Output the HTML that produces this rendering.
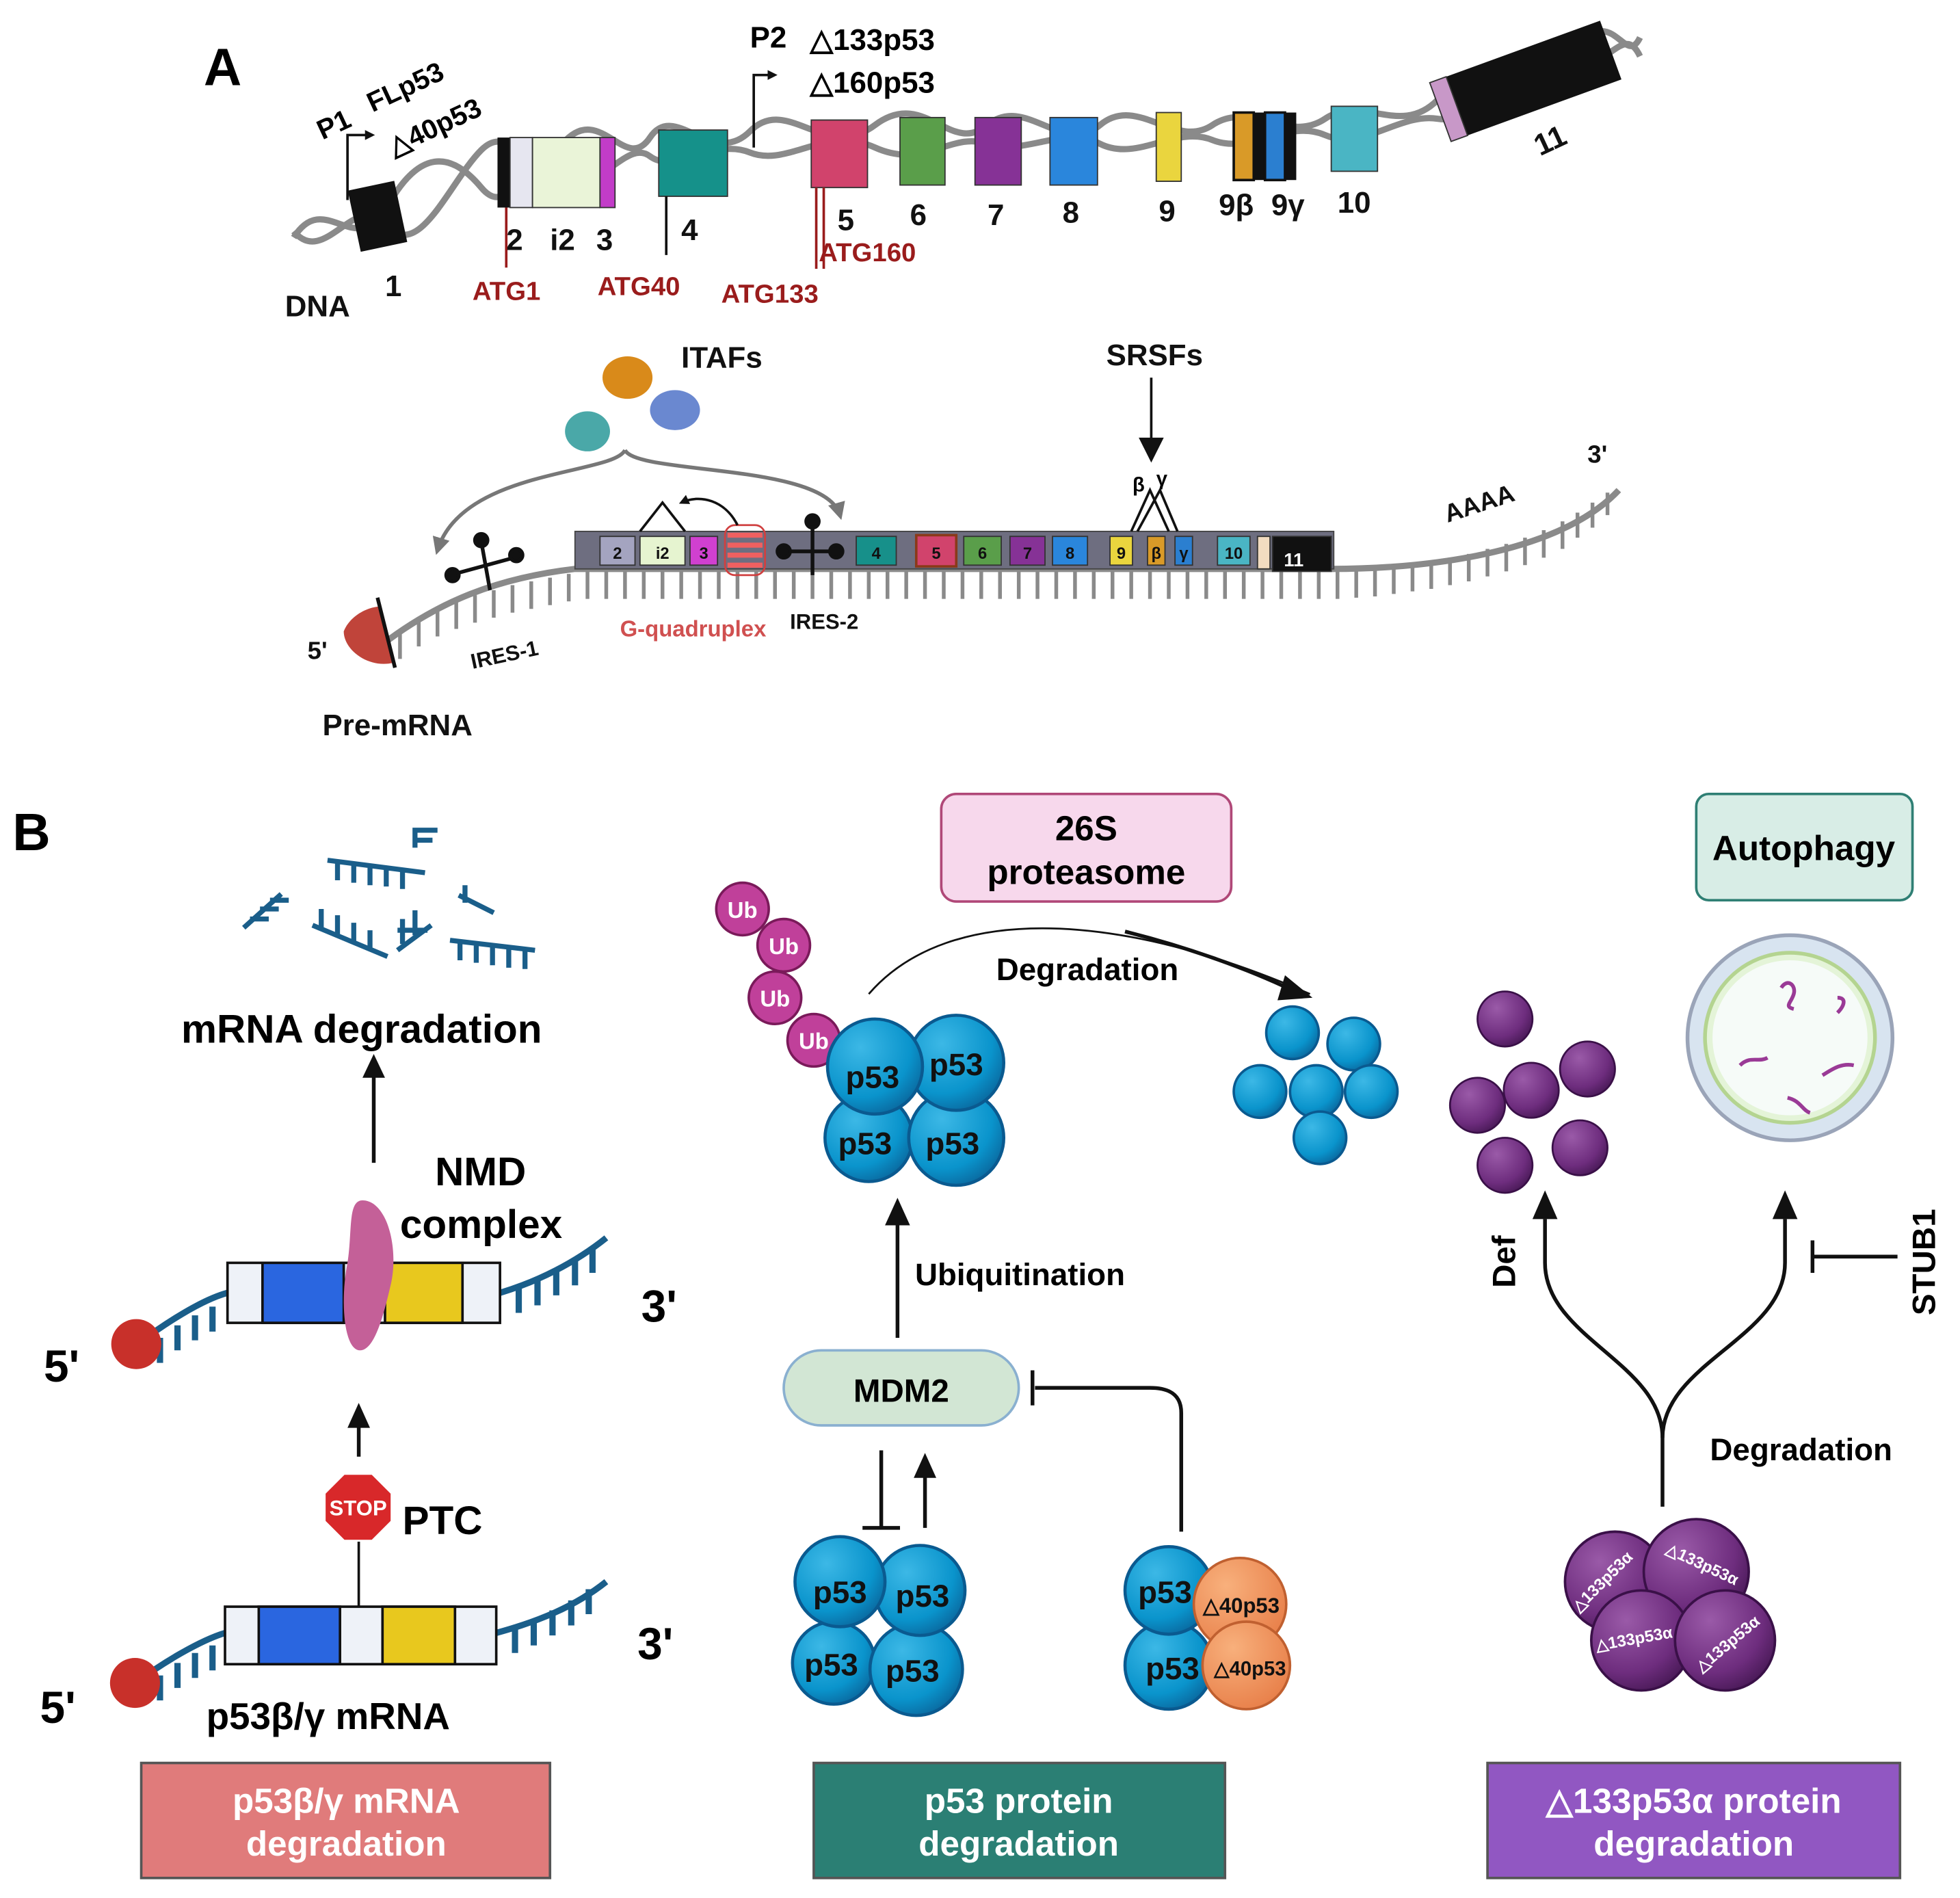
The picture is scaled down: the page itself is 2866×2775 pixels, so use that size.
<!DOCTYPE html>
<html><head><meta charset="utf-8"><style>
html,body{margin:0;padding:0;background:#fff}
svg{display:block}
text{font-family:"Liberation Sans",sans-serif;font-weight:bold}
</style></head><body>
<svg width="2866" height="2775" viewBox="0 0 1568 1518" preserveAspectRatio="none" xmlns="http://www.w3.org/2000/svg">
<defs>
<radialGradient id="gb" cx="0.35" cy="0.3" r="0.75"><stop offset="0" stop-color="#3cb8e6"/><stop offset="0.7" stop-color="#0a94cc"/><stop offset="1" stop-color="#0a6aa0"/></radialGradient>
<radialGradient id="gp" cx="0.35" cy="0.3" r="0.75"><stop offset="0" stop-color="#9a5aa8"/><stop offset="0.7" stop-color="#6e2d7e"/><stop offset="1" stop-color="#4a1a58"/></radialGradient>
<radialGradient id="go" cx="0.35" cy="0.3" r="0.75"><stop offset="0" stop-color="#f8b07c"/><stop offset="1" stop-color="#e8804a"/></radialGradient>
<marker id="ah" markerWidth="8" markerHeight="8" refX="6" refY="4" orient="auto" markerUnits="userSpaceOnUse"><path d="M0,0 L8,4 L0,8z" fill="#111"/></marker>
<marker id="ahb" markerWidth="18" markerHeight="18" refX="14" refY="9" orient="auto" markerUnits="userSpaceOnUse"><path d="M0,0 L18,9 L0,18z" fill="#111"/></marker>
<marker id="ahg" markerWidth="14" markerHeight="14" refX="10" refY="7" orient="auto" markerUnits="userSpaceOnUse"><path d="M0,0 L14,7 L0,14z" fill="#777"/></marker>
</defs>

<!-- ===== A ===== -->
<text x="163" y="68" font-size="42">A</text>
<!-- DNA helix -->
<g fill="none" stroke="#8a8a8a" stroke-width="5">
<path d="M235,190 C260,150 285,210 310,165 S360,120 385,150 S420,110 450,135 S500,110 520,125 S570,110 600,122 S660,100 700,118 S760,105 790,115 S850,100 880,115 S940,100 970,112 S1030,95 1060,108 S1120,90 1150,95 S1230,60 1260,55 S1300,20 1312,45"/>
<path d="M235,185 C260,215 285,150 310,180 S360,145 385,120 S420,150 450,115 S500,140 520,110 S570,135 600,105 S660,130 700,100 S760,125 790,100 S850,125 880,100 S940,120 970,100 S1030,115 1060,95 S1120,110 1150,80 S1230,80 1260,40 S1300,55 1312,30"/>
</g>
<!-- exons -->
<rect x="283" y="148" width="38" height="50" fill="#111" transform="rotate(-12 302 173)"/>
<rect x="398" y="110" width="10" height="56" fill="#111"/>
<rect x="408" y="110" width="18" height="56" fill="#e6e6f0" stroke="#333"/>
<rect x="426" y="110" width="54" height="56" fill="#eaf4d8" stroke="#333"/>
<rect x="480" y="110" width="12" height="56" fill="#c23cc8" stroke="#333"/>
<rect x="527" y="104" width="55" height="53" fill="#15918a" stroke="#333"/>
<rect x="649" y="96" width="45" height="54" fill="#d1436c" stroke="#333"/>
<rect x="720" y="94" width="36" height="54" fill="#5a9e4a" stroke="#333"/>
<rect x="780" y="94" width="37" height="54" fill="#863296" stroke="#333"/>
<rect x="840" y="94" width="38" height="54" fill="#2a86dc" stroke="#333"/>
<rect x="925" y="90" width="20" height="55" fill="#ead53e" stroke="#333"/>
<rect x="987" y="90" width="16" height="54" fill="#d99a28" stroke="#111" stroke-width="2"/>
<rect x="1003" y="90" width="9" height="54" fill="#111"/>
<rect x="1012" y="90" width="16" height="54" fill="#2b7fd0" stroke="#111" stroke-width="2"/>
<rect x="1028" y="90" width="9" height="54" fill="#111"/>
<rect x="1065" y="85" width="37" height="52" fill="#4ab5c4" stroke="#333"/>
<g transform="rotate(-20 1220 65)"><rect x="1148" y="40" width="145" height="50" fill="#111"/><rect x="1148" y="40" width="14" height="50" fill="#c898c8" stroke="#333"/></g>
<!-- promoters -->
<path d="M278,160 V108 H298" fill="none" stroke="#111" stroke-width="2" marker-end="url(#ah)"/>
<path d="M603,118 V60 H620" fill="none" stroke="#111" stroke-width="2" marker-end="url(#ah)"/>
<text x="258" y="112" font-size="22" transform="rotate(-25 258 112)">P1</text>
<text x="298" y="90" font-size="22" transform="rotate(-25 298 90)">FLp53</text>
<text x="315" y="125" font-size="22" transform="rotate(-25 315 125)">△40p53</text>
<text x="600" y="38" font-size="24">P2</text>
<text x="648" y="40" font-size="24">△133p53</text>
<text x="648" y="74" font-size="24">△160p53</text>
<!-- ATG lines -->
<g stroke="#9a1c1c" stroke-width="2"><line x1="405" y1="166" x2="405" y2="214"/><line x1="653" y1="150" x2="653" y2="215"/><line x1="659" y1="150" x2="659" y2="215"/></g>
<line x1="533" y1="157" x2="533" y2="204" stroke="#111" stroke-width="2"/>
<g font-size="24" fill="#111">
<text x="228" y="253">DNA</text><text x="308" y="237">1</text><text x="405" y="200">2</text><text x="440" y="200">i2</text><text x="477" y="200">3</text><text x="545" y="192">4</text><text x="670" y="184">5</text><text x="728" y="180">6</text><text x="790" y="180">7</text><text x="850" y="178">8</text><text x="927" y="177">9</text><text x="975" y="172">9β</text><text x="1017" y="172">9γ</text><text x="1070" y="170">10</text>
<text x="1232" y="125" transform="rotate(-25 1232 125)">11</text>
</g>
<g font-size="21" fill="#9a1c1c"><text x="378" y="240">ATG1</text><text x="478" y="236">ATG40</text><text x="577" y="242">ATG133</text><text x="655" y="209">ATG160</text></g>

<!-- pre-mRNA -->
<g stroke="#8a8a8a" stroke-width="3">
<path d="M300,520 C350,480 400,462 460,455 L1065,455 C1150,455 1250,440 1295,392" fill="none" stroke-width="5"/>
</g>
<g stroke="#8a8a8a" stroke-width="3" id="ticks">
<path d="M320,505v22M335,495v22M350,487v22M365,481v22M380,476v22M395,472v22M410,468v22M425,465v22M440,462v22M455,459v22
M470,457v22M485,457v22M500,457v22M515,457v22M530,457v22M545,457v22M560,457v22M575,457v22M590,457v22M605,457v22M620,457v22M635,457v22M650,457v22M665,457v22M680,457v22M695,457v22M710,457v22M725,457v22M740,457v22M755,457v22M770,457v22M785,457v22M800,457v22M815,457v22M830,457v22M845,457v22M860,457v22M875,457v22M890,457v22M905,457v22M920,457v22M935,457v22M950,457v22M965,457v22M980,457v22M995,457v22M1010,457v22M1025,457v22M1040,457v22M1055,457v22
M1070,457v22M1085,456v22M1100,455v22M1115,453v22M1130,451v22M1145,449v22M1160,446v22M1175,443v22M1190,439v22M1205,435v22M1220,430v22M1235,424v22M1250,417v22M1262,410v20M1274,402v20M1286,394v18"/>
</g>
<rect x="460" y="425" width="607" height="30" fill="#6e6e80" stroke="#444"/>
<g stroke="#333" stroke-width="1">
<rect x="480" y="429" width="28" height="23" fill="#a4a4c0"/>
<rect x="512" y="429" width="36" height="23" fill="#e6f4d0"/>
<rect x="552" y="429" width="22" height="23" fill="#d040d0"/>
<rect x="685" y="429" width="32" height="23" fill="#17908a"/>
<rect x="733" y="428" width="32" height="25" fill="#d1436c" stroke="#8a3a1a" stroke-width="2"/>
<rect x="771" y="429" width="30" height="23" fill="#5a9e4a"/>
<rect x="808" y="429" width="28" height="23" fill="#863296"/>
<rect x="842" y="429" width="28" height="23" fill="#2a86dc"/>
<rect x="888" y="429" width="18" height="23" fill="#ead53e"/>
<rect x="918" y="429" width="14" height="23" fill="#d99a28"/>
<rect x="940" y="429" width="14" height="23" fill="#2b7fd0"/>
<rect x="974" y="429" width="26" height="23" fill="#4ab5c4"/>
<rect x="1006" y="429" width="10" height="26" fill="#f2dcc0"/>
<rect x="1018" y="429" width="47" height="28" fill="#111"/>
</g>
<g font-size="13" fill="#111" text-anchor="middle"><text x="494" y="447">2</text><text x="530" y="447">i2</text><text x="563" y="447">3</text><text x="701" y="447">4</text><text x="749" y="447">5</text><text x="786" y="447">6</text><text x="822" y="447">7</text><text x="856" y="447">8</text><text x="897" y="447">9</text><text x="925" y="447">β</text><text x="947" y="447">γ</text><text x="987" y="447">10</text><text x="1035" y="453" fill="#fff" font-size="15">11</text></g>
<!-- G4 -->
<g stroke="#d04040" stroke-width="1.5" fill="none"><rect x="580" y="420" width="32" height="40" rx="8"/></g>
<g stroke="#f06060" stroke-width="4"><line x1="582" y1="428" x2="610" y2="428"/><line x1="582" y1="436" x2="610" y2="436"/><line x1="582" y1="444" x2="610" y2="444"/><line x1="582" y1="452" x2="610" y2="452"/></g>
<!-- splicing triangle & arrow -->
<path d="M512,425 L530,402 L548,425" fill="none" stroke="#111" stroke-width="2"/>
<path d="M590,420 C580,400 560,395 545,402" fill="none" stroke="#111" stroke-width="2" marker-end="url(#ah)"/>
<!-- IRES symbols -->
<g stroke="#111" stroke-width="3" fill="#111">
<line x1="360" y1="460" x2="415" y2="445"/><line x1="385" y1="433" x2="392" y2="472"/><circle cx="362" cy="460" r="5"/><circle cx="413" cy="444" r="5"/><circle cx="385" cy="432" r="5"/>
<line x1="625" y1="441" x2="670" y2="441"/><line x1="650" y1="418" x2="650" y2="460"/><circle cx="627" cy="441" r="5"/><circle cx="669" cy="441" r="5"/><circle cx="650" cy="417" r="5"/>
</g>
<!-- 5' cap -->
<path d="M305,485 L315,530 C295,535 275,520 275,505 C280,492 295,485 305,485z" fill="#c0443a"/>
<line x1="302" y1="478" x2="316" y2="534" stroke="#111" stroke-width="3"/>
<g font-size="20" fill="#111"><text x="246" y="527">5'</text><text x="1270" y="370">3'</text>
<text x="1158" y="418" transform="rotate(-18 1158 418)">AAAA</text>
<text x="378" y="535" font-size="17" transform="rotate(-12 378 535)">IRES-1</text>
<text x="632" y="503" font-size="17">IRES-2</text>
<text x="496" y="509" font-size="18" fill="#d05050">G-quadruplex</text>
<text x="258" y="588" font-size="24">Pre-mRNA</text>
<text x="545" y="294" font-size="24">ITAFs</text><text x="885" y="292" font-size="24">SRSFs</text>
</g>
<!-- ITAF blobs -->
<ellipse cx="502" cy="302" rx="20" ry="17" fill="#d98a1a"/>
<ellipse cx="470" cy="345" rx="18" ry="16" fill="#4aa8a8"/>
<ellipse cx="540" cy="328" rx="20" ry="16" fill="#6a88d0"/>
<!-- ITAF brace arrows -->
<path d="M500,360 C490,380 370,375 350,440" fill="none" stroke="#777" stroke-width="3" marker-end="url(#ahg)"/>
<path d="M500,360 C510,380 660,370 672,412" fill="none" stroke="#777" stroke-width="3" marker-end="url(#ahg)"/>
<!-- SRSF arrow -->
<line x1="921" y1="302" x2="921" y2="362" stroke="#111" stroke-width="2"/><path d="M911,350 L921,370 L931,350z" fill="#111"/>
<text x="906" y="393" font-size="16">β</text><text x="925" y="388" font-size="16">γ</text>
<path d="M905,425 L920,392 L935,425 M910,425 L928,392 L942,425" fill="none" stroke="#111" stroke-width="2"/>

<!-- ===== B ===== -->
<text x="10" y="680" font-size="42">B</text>
<!-- mRNA fragments -->
<g stroke="#1a5e8a" stroke-width="4" fill="none">
<path d="M262,688 L340,698 M270,688v16M283,690v16M296,692v16M309,693v16M322,695v16"/>
<path d="M332,662 v16 M332,664 h18 M332,672 h14"/>
<path d="M195,742 L225,715 M200,735h15M208,727h15M216,720h15"/>
<path d="M250,740 L310,765 M257,743v-16M270,748v-16M283,754v-16M296,760v-16"/>
<path d="M318,760 L345,740 M322,735v20M332,728v20 M318,744 h24"/>
<path d="M367,716 L395,730 M372,708 v14"/>
<path d="M360,752 L428,760 M368,752v16M381,754v16M394,756v16M407,758v16M420,759v16"/>
</g>
<text x="145" y="834" font-size="32">mRNA degradation</text>
<line x1="299" y1="930" x2="299" y2="860" stroke="#111" stroke-width="3"/><path d="M290,862 L299,843 L308,862z" fill="#111"/>
<!-- NMD mRNA top -->
<g stroke="#1a5e8a" stroke-width="5" fill="none">
<path d="M110,1075 C130,1060 160,1040 182,1034"/><path d="M400,1034 C430,1025 460,1010 485,990"/>
<path d="M128,1070v20M142,1060v20M156,1052v20M170,1045v20M415,1030v20M430,1024v20M445,1016v20M460,1008v20M474,998v20"/>
</g>
<rect x="182" y="1010" width="218" height="48" fill="#eef2f8" stroke="#111" stroke-width="2"/>
<rect x="210" y="1010" width="65" height="48" fill="#2a66e0" stroke="#111" stroke-width="2"/>
<rect x="308" y="1010" width="62" height="48" fill="#e8c81e" stroke="#111" stroke-width="2"/>
<circle cx="109" cy="1075" r="20" fill="#c8302a"/>
<path d="M290,960 C310,960 320,1000 312,1030 C305,1060 298,1080 288,1080 C275,1080 272,1040 278,1010 C282,985 278,960 290,960z" fill="#c46098"/>
<text x="348" y="948" font-size="32">NMD</text><text x="320" y="990" font-size="32">complex</text>
<text x="35" y="1105" font-size="36">5'</text><text x="513" y="1057" font-size="36">3'</text>
<line x1="287" y1="1165" x2="287" y2="1140" stroke="#111" stroke-width="3"/><path d="M278,1142 L287,1122 L296,1142z" fill="#111"/>
<!-- STOP -->
<polygon points="275,1178 298,1178 314,1194 314,1217 298,1233 275,1233 259,1217 259,1194" fill="#d8282a" stroke="#fff" stroke-width="3"/>
<text x="286.5" y="1212" font-size="17" fill="#fff" text-anchor="middle">STOP</text>
<text x="322" y="1227" font-size="32">PTC</text>
<line x1="287" y1="1233" x2="287" y2="1285" stroke="#111" stroke-width="2"/>
<!-- bottom mRNA -->
<g stroke="#1a5e8a" stroke-width="5" fill="none">
<path d="M110,1345 C130,1330 160,1312 180,1306"/><path d="M397,1306 C430,1297 460,1285 485,1265"/>
<path d="M128,1340v20M142,1330v20M156,1322v20M170,1316v20M412,1302v20M427,1296v20M442,1288v20M457,1280v20M471,1271v20"/>
</g>
<rect x="180" y="1285" width="217" height="46" fill="#eef2f8" stroke="#111" stroke-width="2"/>
<rect x="207" y="1285" width="65" height="46" fill="#2a66e0" stroke="#111" stroke-width="2"/>
<rect x="306" y="1285" width="58" height="46" fill="#e8c81e" stroke="#111" stroke-width="2"/>
<circle cx="108" cy="1346" r="20" fill="#c8302a"/>
<text x="32" y="1378" font-size="36">5'</text><text x="510" y="1327" font-size="36">3'</text>
<text x="165" y="1383" font-size="30">p53β/γ mRNA</text>
<rect x="113" y="1410" width="327" height="92" fill="#e07b7b" stroke="#555" stroke-width="2"/>
<text x="277" y="1450" font-size="28" fill="#fff" text-anchor="middle">p53β/γ mRNA</text><text x="277" y="1484" font-size="28" fill="#fff" text-anchor="middle">degradation</text>

<!-- middle -->
<rect x="753" y="635" width="232" height="86" rx="12" fill="#f7d8ec" stroke="#b04878" stroke-width="2"/>
<text x="869" y="672" font-size="28" text-anchor="middle">26S</text><text x="869" y="707" font-size="28" text-anchor="middle">proteasome</text>
<path d="M695,795 C760,720 900,730 1048,795" fill="none" stroke="#111" stroke-width="1.5"/>
<path d="M900,745 C960,760 1010,780 1040,795" fill="none" stroke="#111" stroke-width="3"/>
<path d="M1028,780 L1050,798 L1022,800z" fill="#111"/>
<text x="797" y="784" font-size="25">Degradation</text>
<g fill="#c0409a" stroke="#7a1a5a" stroke-width="2">
<circle cx="594" cy="727" r="21"/><circle cx="627" cy="756" r="21"/><circle cx="620" cy="798" r="21"/><circle cx="651" cy="832" r="21"/>
</g>
<g font-size="18" fill="#fff" text-anchor="middle"><text x="594" y="734">Ub</text><text x="627" y="763">Ub</text><text x="620" y="805">Ub</text><text x="651" y="839">Ub</text></g>
<g stroke="#0a5a90" stroke-width="2.5" fill="url(#gb)">
<circle cx="695" cy="910" r="35"/><circle cx="765" cy="910" r="38"/><circle cx="765" cy="850" r="38"/><circle cx="700" cy="853" r="38"/>
</g>
<g font-size="25" fill="#111" text-anchor="middle"><text x="698" y="870">p53</text><text x="765" y="860">p53</text><text x="692" y="923">p53</text><text x="762" y="923">p53</text></g>
<g stroke="#0a5a90" stroke-width="2" fill="url(#gb)">
<circle cx="1034" cy="826" r="21"/><circle cx="1083" cy="835" r="21"/><circle cx="1008" cy="873" r="21"/><circle cx="1053" cy="873" r="21"/><circle cx="1097" cy="873" r="21"/><circle cx="1056" cy="910" r="21"/>
</g>
<line x1="718" y1="1070" x2="718" y2="978" stroke="#111" stroke-width="3"/><path d="M708,980 L718,958 L728,980z" fill="#111"/>
<text x="732" y="1028" font-size="25">Ubiquitination</text>
<rect x="627" y="1080" width="188" height="60" rx="30" fill="#d2e6d4" stroke="#8ab0d0" stroke-width="2"/>
<text x="721" y="1121" font-size="26" text-anchor="middle">MDM2</text>
<path d="M945,1225 V1130 C945,1115 935,1110 920,1110 H828" fill="none" stroke="#111" stroke-width="3"/>
<line x1="826" y1="1096" x2="826" y2="1124" stroke="#111" stroke-width="3"/>
<line x1="705" y1="1160" x2="705" y2="1222" stroke="#111" stroke-width="3"/><line x1="690" y1="1222" x2="720" y2="1222" stroke="#111" stroke-width="3"/>
<line x1="740" y1="1222" x2="740" y2="1180" stroke="#111" stroke-width="3"/><path d="M731,1182 L740,1162 L749,1182z" fill="#111"/>
<g stroke="#0a5a90" stroke-width="2.5" fill="url(#gb)">
<circle cx="667" cy="1330" r="33"/><circle cx="733" cy="1335" r="37"/><circle cx="736" cy="1272" r="36"/><circle cx="672" cy="1265" r="36"/>
</g>
<g font-size="25" fill="#111" text-anchor="middle"><text x="672" y="1282">p53</text><text x="738" y="1285">p53</text><text x="665" y="1340">p53</text><text x="730" y="1345">p53</text></g>
<g stroke="#0a5a90" stroke-width="2.5" fill="url(#gb)"><circle cx="935" cy="1332" r="35"/><circle cx="935" cy="1272" r="35"/></g>
<g stroke="#c06030" stroke-width="2" fill="url(#go)"><circle cx="992" cy="1283" r="37"/><circle cx="997" cy="1332" r="35"/></g>
<g font-size="25" fill="#111" text-anchor="middle"><text x="932" y="1282">p53</text><text x="938" y="1343">p53</text><text x="993" y="1290" font-size="17">△40p53</text><text x="1000" y="1340" font-size="16">△40p53</text></g>
<rect x="651" y="1410" width="329" height="92" fill="#2b7f74" stroke="#555" stroke-width="2"/>
<text x="815" y="1450" font-size="28" fill="#fff" text-anchor="middle">p53 protein</text><text x="815" y="1484" font-size="28" fill="#fff" text-anchor="middle">degradation</text>

<!-- right -->
<rect x="1357" y="635" width="173" height="85" rx="10" fill="#d8ede6" stroke="#2f7f74" stroke-width="2"/>
<text x="1443" y="688" font-size="28" text-anchor="middle">Autophagy</text>
<circle cx="1432" cy="830" r="82" fill="#d8e4f0" stroke="#9aa4b8" stroke-width="3"/>
<circle cx="1432" cy="830" r="68" fill="#e4f4d8" stroke="#b4d490" stroke-width="3"/>
<circle cx="1432" cy="830" r="62" fill="#f6fbf8"/>
<g stroke="#9a3a96" stroke-width="3" fill="none">
<path d="M1425,790 c5,-8 12,-2 10,5 s-8,10 0,12"/><path d="M1470,810 c5,-5 8,-12 0,-12"/><path d="M1392,852 c8,-8 15,-2 22,-6"/><path d="M1458,860 c8,-5 15,-10 25,-8"/><path d="M1430,878 c10,2 12,10 18,12"/>
</g>
<g stroke="#3a1048" stroke-width="1.5" fill="url(#gp)">
<circle cx="1204" cy="815" r="22"/><circle cx="1270" cy="855" r="22"/><circle cx="1182" cy="884" r="22"/><circle cx="1225" cy="872" r="22"/><circle cx="1264" cy="918" r="22"/><circle cx="1204" cy="932" r="22"/>
</g>
<path d="M1330,1205 V1150 C1330,1090 1236,1070 1236,1010 V975" fill="none" stroke="#111" stroke-width="3"/>
<path d="M1330,1150 C1330,1090 1428,1070 1428,1010 V975" fill="none" stroke="#111" stroke-width="3"/>
<path d="M1226,975 L1236,952 L1246,975z M1418,975 L1428,952 L1438,975z" fill="#111"/>
<text x="1212" y="1030" font-size="26" transform="rotate(-90 1212 1030)">Def</text>
<line x1="1450" y1="1005" x2="1518" y2="1005" stroke="#111" stroke-width="3"/><line x1="1450" y1="992" x2="1450" y2="1018" stroke="#111" stroke-width="3"/>
<text x="1548" y="1052" font-size="26" transform="rotate(-90 1548 1052)">STUB1</text>
<text x="1368" y="1168" font-size="25">Degradation</text>
<g stroke="#3a1048" stroke-width="2" fill="url(#gp)">
<circle cx="1292" cy="1265" r="40"/><circle cx="1357" cy="1257" r="42"/><circle cx="1313" cy="1312" r="40"/><circle cx="1380" cy="1312" r="40"/>
</g>
<g font-size="13" fill="#fff" text-anchor="middle" font-weight="normal">
<text x="1285" y="1268" transform="rotate(-45 1285 1268)">△133p53α</text><text x="1360" y="1255" transform="rotate(25 1360 1255)">△133p53α</text><text x="1308" y="1315" transform="rotate(-10 1308 1315)">△133p53α</text><text x="1385" y="1318" transform="rotate(-40 1385 1318)">△133p53α</text></g>
<rect x="1190" y="1410" width="330" height="92" fill="#9157c2" stroke="#555" stroke-width="2"/>
<text x="1355" y="1450" font-size="28" fill="#fff" text-anchor="middle">△133p53α protein</text><text x="1355" y="1484" font-size="28" fill="#fff" text-anchor="middle">degradation</text>
</svg>
</body></html>
